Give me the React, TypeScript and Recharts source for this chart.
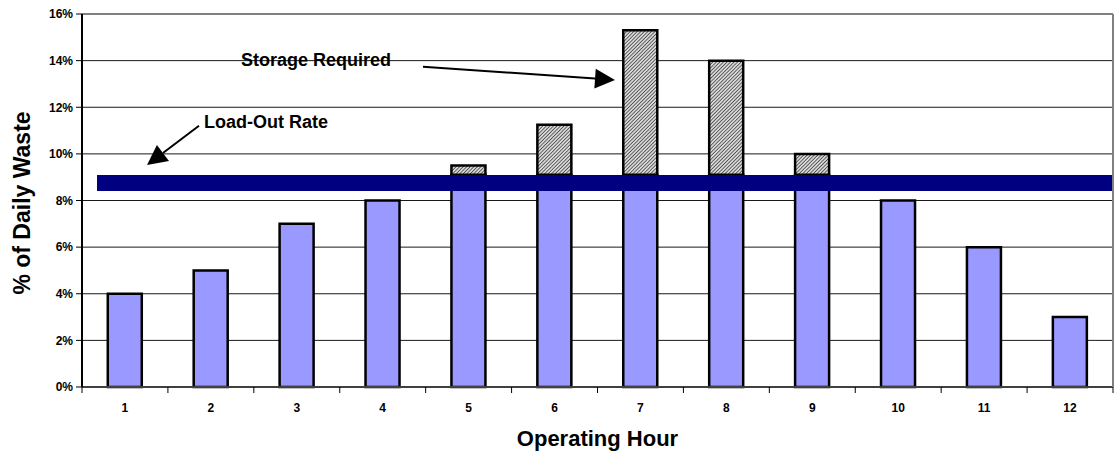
import React from 'react';
import { BarChart, Bar, XAxis, YAxis, CartesianGrid, ReferenceLine, Label } from 'recharts';

const hours = ['1', '2', '3', '4', '5', '6', '7', '8', '9', '10', '11', '12'];
const loadedOut = [4, 5, 7, 8, 9.1, 9.1, 9.1, 9.1, 9.1, 8, 6, 3];
const storage = [0, 0, 0, 0, 0.4, 2.15, 6.2, 4.9, 0.9, 0, 0, 0];
const yTicks = [0, 2, 4, 6, 8, 10, 12, 14, 16];
const loadOutRate = 8.75;

const data = hours.map((h, i) => ({ hour: h, loaded: loadedOut[i], storage: storage[i] }));

const FONT = '"Liberation Sans", Arial, sans-serif';
const PLOT_LEFT = 82;
const PLOT_RIGHT = 1113;
const PLOT_BOTTOM = 387;
const HALF_BAND = (PLOT_RIGHT - PLOT_LEFT) / hours.length / 2;

function XTick(props: any) {
  const { x, payload, index } = props;
  return (
    <g>
      <line x1={x - HALF_BAND} x2={x - HALF_BAND} y1={PLOT_BOTTOM} y2={PLOT_BOTTOM + 6} stroke="#000" />
      {index === hours.length - 1 && (
        <line x1={x + HALF_BAND} x2={x + HALF_BAND} y1={PLOT_BOTTOM} y2={PLOT_BOTTOM + 6} stroke="#000" />
      )}
      <text x={x} y={PLOT_BOTTOM + 25} textAnchor="middle" fontFamily={FONT} fontWeight="bold" fontSize={12} fill="#000">
        {payload.value}
      </text>
    </g>
  );
}

function Arrow({ x1, y1, x2, y2 }: { x1: number; y1: number; x2: number; y2: number }) {
  const dx = x2 - x1;
  const dy = y2 - y1;
  const len = Math.sqrt(dx * dx + dy * dy);
  const ux = dx / len;
  const uy = dy / len;
  const hl = 20;
  const hw = 10;
  const bx = x2 - ux * hl;
  const by = y2 - uy * hl;
  const pts = `${x2},${y2} ${bx - uy * hw},${by + ux * hw} ${bx + uy * hw},${by - ux * hw}`;
  return (
    <g>
      <line x1={x1} y1={y1} x2={bx} y2={by} stroke="#000" strokeWidth={2} />
      <polygon points={pts} fill="#000" />
    </g>
  );
}

export default function App() {
  return (
    <div style={{ position: 'absolute', left: 0, top: 0, width: 1116, height: 453, background: '#fff' }}>
      <svg width={0} height={0} style={{ position: 'absolute' }}>
        <defs>
          <pattern id="hatch" width={2.5} height={2.5} patternUnits="userSpaceOnUse" patternTransform="rotate(45)">
            <rect width={2.5} height={2.5} fill="#d8d8d8" />
            <line x1={0} y1={0} x2={0} y2={2.5} stroke="#333" strokeWidth={1.4} />
          </pattern>
        </defs>
      </svg>
      <BarChart
        width={1116}
        height={453}
        data={data}
        margin={{ top: 14, right: 0, left: 0, bottom: 0 }}
        barCategoryGap="30%"
      >
        <CartesianGrid vertical={false} stroke="#000" strokeOpacity={0.9} />
        <XAxis
          dataKey="hour"
          height={66}
          tickLine={false}
          axisLine={{ stroke: '#404040', strokeWidth: 2 }}
          tick={<XTick />}
          interval={0}
        >
          <Label
            content={() => (
              <text x={(PLOT_LEFT + PLOT_RIGHT) / 2} y={446} textAnchor="middle" fontFamily={FONT} fontWeight="bold" fontSize={22} fill="#000">
                Operating Hour
              </text>
            )}
          />
        </XAxis>
        <YAxis
          width={82}
          domain={[0, 16]}
          ticks={yTicks}
          interval={0}
          tickFormatter={(v: number) => `${v}%`}
          tick={{ fontFamily: FONT, fontWeight: 'bold', fontSize: 12, fill: '#000' }}
          tickSize={6}
          tickMargin={3}
          tickLine={{ stroke: '#000' }}
          axisLine={{ stroke: '#000', strokeWidth: 2 }}
        >
          <Label
            content={() => (
              <text
                x={30}
                y={203}
                transform="rotate(-90, 30, 203)"
                textAnchor="middle"
                fontFamily={FONT}
                fontWeight="bold"
                fontSize={23}
                fill="#000"
              >
                % of Daily Waste
              </text>
            )}
          />
        </YAxis>
        <YAxis
          yAxisId="border"
          orientation="right"
          width={3}
          tick={false}
          tickLine={false}
          axisLine={{ stroke: '#808080', strokeWidth: 2 }}
        />
        <Bar dataKey="loaded" stackId="a" fill="#9999FF" stroke="#000" strokeWidth={2.5} isAnimationActive={false} />
        <Bar dataKey="storage" stackId="a" fill="url(#hatch)" stroke="#000" strokeWidth={2.5} isAnimationActive={false} />
        <ReferenceLine y={16} stroke="#808080" strokeWidth={2} />
        <ReferenceLine y={loadOutRate} stroke="#000080" strokeWidth={16} strokeDasharray="0 15 3000" />
      </BarChart>
      <svg width={1116} height={453} style={{ position: 'absolute', left: 0, top: 0, pointerEvents: 'none' }}>
        <text x={241} y={66} fontFamily={FONT} fontWeight="bold" fontSize={18} fill="#000">
          Storage Required
        </text>
        <Arrow x1={423} y1={66.7} x2={615} y2={80} />
        <text x={204} y={128} fontFamily={FONT} fontWeight="bold" fontSize={18} fill="#000">
          Load-Out Rate
        </text>
        <Arrow x1={199} y1={125.7} x2={147} y2={165} />
      </svg>
    </div>
  );
}
